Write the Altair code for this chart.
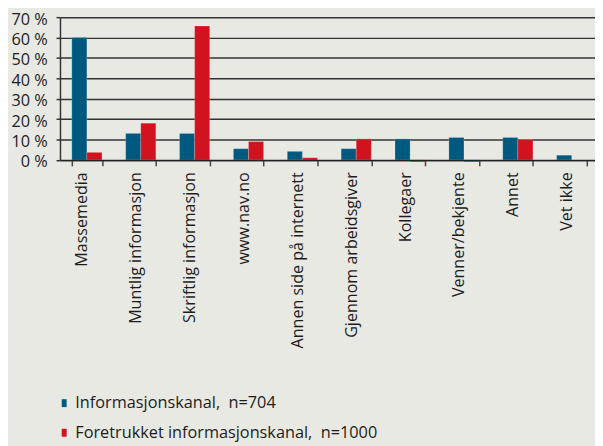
import altair as alt
import pandas as pd

categories = ["Massemedia", "Muntlig informasjon", "Skriftlig informasjon", "www.nav.no",
              "Annen side på internett", "Gjennom arbeidsgiver", "Kollegaer",
              "Venner/bekjente", "Annet", "Vet ikke"]
series_names = ["Informasjonskanal,\u00a0 n=704", "Foretrukket informasjonskanal,\u00a0 n=1000"]
info_values = [60.0, 13.0, 13.0, 5.5, 4.2, 5.5, 10.3, 11.0, 11.0, 2.3]
pref_values = [3.7, 18.0, 65.7, 9.0, 1.0, 10.3, -1.0, -1.0, 10.0, 0.0]
y_ticks = [0, 10, 20, 30, 40, 50, 60, 70]
colors = ["#005a7f", "#d0131e"]

rows = []
for c, a, b in zip(categories, info_values, pref_values):
    rows.append({"kategori": c, "serie": series_names[0], "verdi": a})
    rows.append({"kategori": c, "serie": series_names[1], "verdi": b})
df = pd.DataFrame(rows)

FONT = "Open Sans"
TXT = "#1c1c1c"

chart = alt.Chart(df).mark_bar(stroke="#ffffff", strokeWidth=0.4, strokeOpacity=0.5).encode(
    x=alt.X("kategori:N", sort=categories, title=None,
            scale=alt.Scale(paddingInner=0.44, paddingOuter=0.186, align=0.59),
            axis=alt.Axis(labelAngle=-90, labelAlign="right", labelBaseline="alphabetic",
                          labelFont=FONT, labelFontSize=16.3, labelColor=TXT,
                          labelPadding=6, tickBand="extent", tickSize=6, tickColor="#444444",
                          tickWidth=1.5, domainColor="#222222", domainWidth=1.2,
                          grid=False, zindex=1)),
    xOffset=alt.XOffset("serie:N", sort=series_names),
    y=alt.Y("verdi:Q", title=None,
            scale=alt.Scale(domain=[0, 70], nice=False, clamp=False),
            axis=alt.Axis(values=y_ticks, labelExpr="datum.value + ' %'",
                          labelFont=FONT, labelFontSize=16.5, labelColor=TXT,
                          labelPadding=9, labelOffset=2, tickSize=4, tickColor="#333333",
                          tickWidth=1.5, domainColor="#333333", domainWidth=1.5,
                          grid=True, gridColor="#333333", gridWidth=1.5)),
    color=alt.Color("serie:N", sort=series_names,
                    scale=alt.Scale(domain=series_names, range=colors),
                    legend=alt.Legend(title=None, orient="none", legendX=-4, legendY=383,
                                      direction="vertical", padding=0,
                                      symbolType="M-0.625,-1H0.625V1H-0.625Z",
                                      symbolSize=64, symbolStrokeWidth=0,
                                      labelFont=FONT, labelFontSize=16.5, labelColor=TXT,
                                      labelLimit=0, labelOffset=3, rowPadding=13)),
).properties(
    width=542.3, height=144.7,
    autosize=alt.AutoSizeParams(type="none"),
    padding={"left": 52.7, "top": 6.3, "right": 0, "bottom": 287},
    background="#e9e9e4",
).configure_view(stroke=None)

chart.save("out.html", embed_options={"renderer": "svg", "actions": False})
